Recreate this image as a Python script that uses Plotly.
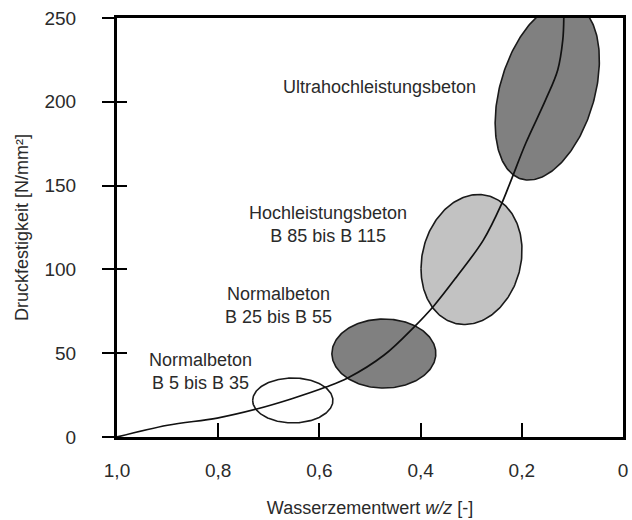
import numpy as np
import plotly.graph_objects as go

# ---- data ----
x_tick_vals = [1.0, 0.8, 0.6, 0.4, 0.2, 0.0]
x_tick_text = ["1,0", "0,8", "0,6", "0,4", "0,2", "0"]
y_tick_vals = [0, 50, 100, 150, 200, 250]

# curve: w/z value vs. compressive strength
curve_wz = [1.0, 0.90, 0.802, 0.724, 0.656, 0.587, 0.544, 0.472, 0.413,
            0.374, 0.329, 0.276, 0.241, 0.221, 0.192, 0.153, 0.129, 0.119, 0.117]
curve_fc = [0.0, 7.0, 11.3, 16.7, 22.7, 29.8, 35.2, 48.9, 65.6,
            78.2, 95.5, 117.5, 138.4, 153.3, 175.4, 201.1, 219.0, 236.9, 250.0]

# concrete classes as ellipses (centre, half extents, correlation)
class_names = ["Normalbeton<br>B 5 bis B 35",
               "Normalbeton<br>B 25 bis B 55",
               "Hochleistungsbeton<br>B 85 bis B 115",
               "Ultrahochleistungsbeton"]
ell_cx = [0.6526, 0.4726, 0.2994, 0.1497]
ell_cy = [21.8, 49.8, 105.9, 206.1]
ell_wx = [0.0793, 0.1027, 0.0998, 0.1030]
ell_hy = [13.4, 20.6, 38.8, 52.8]
ell_r = [0.0, 0.0, -0.14, -0.356]

# label anchor positions (data units)
label_x = [0.8356, 0.681, 0.5832, 0.4814]
label_y = [38.8, 78.5, 126.8, 208.8]

# ---- styles ----
fills = ["white", "#808080", "#c2c2c2", "#808080"]
FONT = "Liberation Sans, Arial, sans-serif"
TXT = "#2a2a2a"

fig = go.Figure()

t = np.linspace(0, 2 * np.pi, 240)
for cx, cy, wx, hy, r, fc in zip(ell_cx, ell_cy, ell_wx, ell_hy, ell_r, fills):
    ex = cx + wx * np.cos(t)
    ey = cy + hy * (r * np.cos(t) + np.sqrt(1 - r * r) * np.sin(t))
    fig.add_trace(go.Scatter(x=ex, y=ey, mode="lines", fill="toself",
                             fillcolor=fc, line=dict(color="#1a1a1a", width=1.6),
                             showlegend=False, hoverinfo="skip"))

fig.add_trace(go.Scatter(x=curve_wz, y=curve_fc, mode="lines",
                         line=dict(color="#111111", width=1.7, shape="spline", smoothing=1.0),
                         showlegend=False, hoverinfo="skip"))

# dummy trace for the inner half of the y ticks
fig.add_trace(go.Scatter(x=[None], y=[None], yaxis="y2", showlegend=False, hoverinfo="skip"))

for name, lx, ly in zip(class_names, label_x, label_y):
    fig.add_annotation(x=lx, y=ly, text=name, showarrow=False,
                       font=dict(family=FONT, size=18, color=TXT), align="center")

fig.update_layout(
    width=632, height=520,
    margin=dict(l=117, r=4, t=18, b=83),
    paper_bgcolor="white", plot_bgcolor="white",
    font=dict(family=FONT, size=18, color=TXT),
    xaxis=dict(range=[1.0, 0.0], tickvals=x_tick_vals, ticktext=x_tick_text,
               ticks="inside", ticklen=14, tickwidth=2, tickcolor="black",
               tickfont=dict(family=FONT, size=19, color=TXT),
               showline=True, linewidth=3, linecolor="black", mirror=True,
               showgrid=False, zeroline=False, ticklabelstandoff=14,
               title=dict(text="Wasserzementwert <i>w/z</i> [-]", standoff=22,
                          font=dict(family=FONT, size=18, color=TXT))),
    yaxis=dict(range=[0, 250], tickvals=y_tick_vals,
               ticks="outside", ticklen=12, tickwidth=2, tickcolor="black",
               tickfont=dict(family=FONT, size=19, color=TXT),
               showline=True, linewidth=3, linecolor="black", mirror=True,
               showgrid=False, zeroline=False, ticklabelstandoff=22,
               title=dict(text="Druckfestigkeit [N/mm²]", standoff=12,
                          font=dict(family=FONT, size=18, color=TXT))),
    yaxis2=dict(overlaying="y", anchor="x", side="left", range=[0, 250],
                tickvals=y_tick_vals, ticks="inside", ticklen=10, tickwidth=2,
                tickcolor="black", showticklabels=False, showgrid=False,
                zeroline=False, showline=False),
)

fig.write_html("out.html")
